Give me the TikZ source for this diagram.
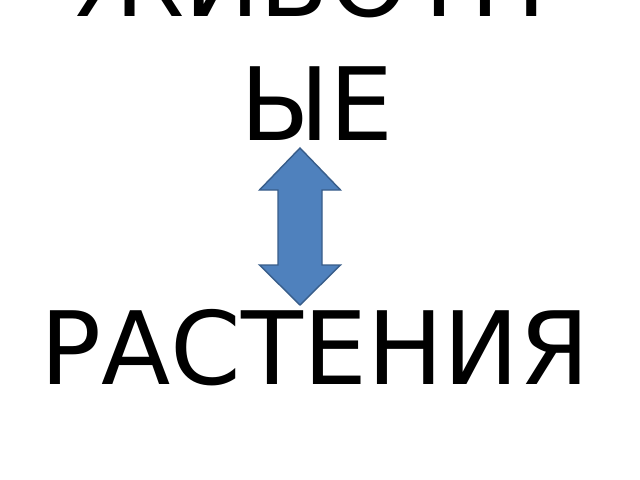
\documentclass[tikz,border=0pt]{standalone}
\usepackage{fontspec}
\setmainfont{DejaVu Sans}
\usetikzlibrary{calc}
\definecolor{arrowfill}{HTML}{4F81BD}
\definecolor{arrowline}{HTML}{385D8A}

\begin{document}
\begin{tikzpicture}[x=0.025cm, y=-0.025cm, every node/.style={inner sep=0pt, anchor=base, font=\fontsize{72}{86}\selectfont}]
\useasboundingbox (0,0) rectangle (640,480);
\fill[white] (0,0) rectangle (640,480);

\node (w1) at (311,16) {ЖИВОТН};
\node (w2) at (317,140) {ЫЕ};
\node (w3) at (315,384) {РАСТЕНИЯ};

% double arrow between the words
\draw[fill=arrowfill, draw=arrowline, line width=1pt, line join=miter]
  (300,148) -- (340.5,190) -- (322,190) -- (322,265) -- (340.5,265) -- (300,305)
  -- (259.5,265) -- (278,265) -- (278,190) -- (259.5,190) -- cycle;
\end{tikzpicture}
\end{document}
